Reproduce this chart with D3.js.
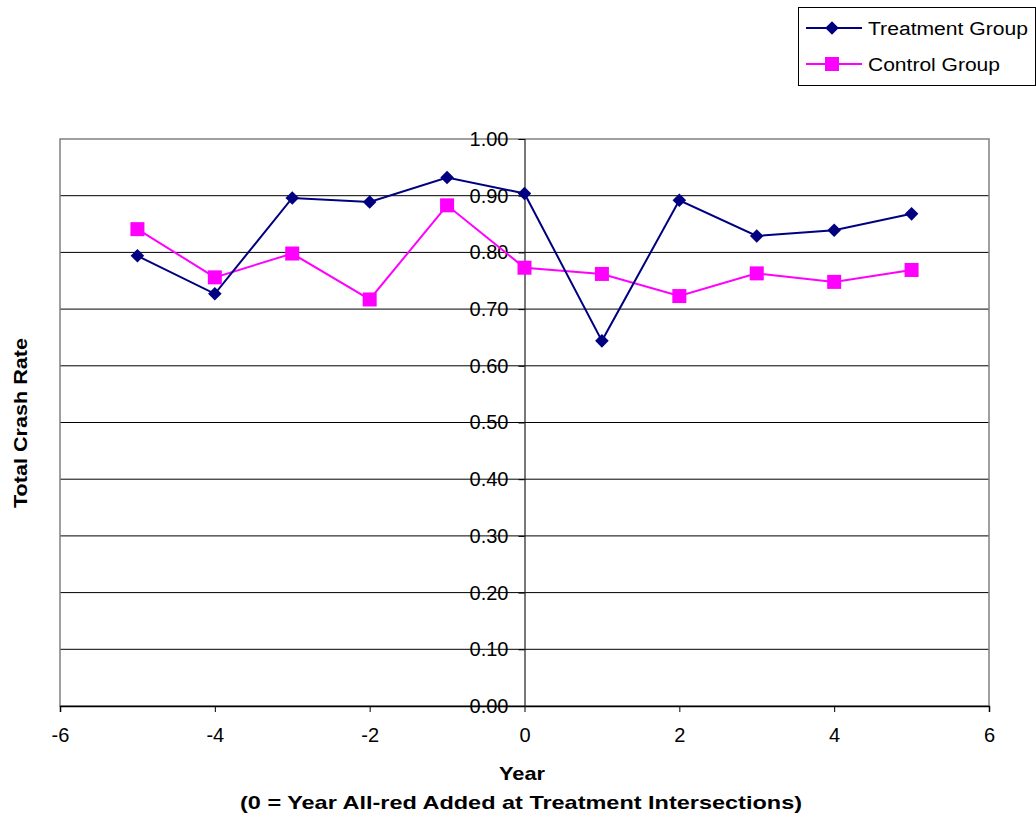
<!DOCTYPE html>
<html><head><meta charset="utf-8">
<script src="https://cdn.jsdelivr.net/npm/d3@7"></script>
<style>body{margin:0;background:#fff;}svg{display:block;font-family:"Liberation Sans",Arial,sans-serif;}</style>
</head><body>
<svg id="c" width="1036" height="821"></svg>
<script>
const years = [-5,-4,-3,-2,-1,0,1,2,3,4,5];
const treatment = [0.794,0.727,0.896,0.889,0.932,0.904,0.644,0.892,0.829,0.839,0.868];
const control = [0.841,0.756,0.798,0.717,0.883,0.773,0.762,0.723,0.763,0.748,0.769];
const xTicks = [-6,-4,-2,0,2,4,6];
const yTicks = [0,0.1,0.2,0.3,0.4,0.5,0.6,0.7,0.8,0.9,1.0];
const seriesNames = ["Treatment Group","Control Group"];

const svg = d3.select("#c");
const L=60, R=989, T=139, B=706;
const x = d3.scaleLinear().domain([-6,6]).range([L,R]);
const y = d3.scaleLinear().domain([0,1]).range([B,T]);

// gridlines
svg.append("g").selectAll("line").data(yTicks.slice(1,-1)).join("line")
  .attr("x1",L).attr("x2",R).attr("y1",d=>y(d)).attr("y2",d=>y(d))
  .attr("stroke","#000").attr("stroke-width",1);
// plot border
svg.append("rect").attr("x",L).attr("y",T).attr("width",R-L).attr("height",B-T)
  .attr("fill","none").attr("stroke","#808080").attr("stroke-width",1.5);

// x axis at y=0
const xAxis = svg.append("g").attr("transform",`translate(0,${y(0)})`)
  .call(d3.axisBottom(x).tickValues(xTicks).tickFormat(d=>String(d)).tickSizeOuter(0).tickSize(6).tickPadding(16));
xAxis.select(".domain").attr("stroke","#000").attr("stroke-width",1.5);
xAxis.selectAll("line").attr("stroke","#000");
xAxis.selectAll("text").attr("font-size",20).attr("fill","#000").attr("font-family","Liberation Sans, Arial");

// y axis at x=0
const yAxis = svg.append("g").attr("transform",`translate(${x(0)},0)`)
  .call(d3.axisLeft(y).tickValues(yTicks).tickFormat(d3.format(".2f")).tickSizeOuter(0).tickSize(6).tickPadding(10));
yAxis.select(".domain").attr("stroke","#202020").attr("stroke-width",1.2);
yAxis.selectAll("line").attr("stroke","#000");
yAxis.selectAll("text").attr("font-size",20).attr("fill","#000").attr("font-family","Liberation Sans, Arial");

// lines
const line = d3.line().x((d,i)=>x(years[i])).y(d=>y(d));
svg.append("path").datum(control).attr("d",line).attr("fill","none").attr("stroke","#FF00FF").attr("stroke-width",2);
svg.append("path").datum(treatment).attr("d",line).attr("fill","none").attr("stroke","#000080").attr("stroke-width",2);

// markers
const diamond = d3.symbol().type(d3.symbolSquare).size(92);
svg.append("g").selectAll("rect").data(control).join("rect")
  .attr("x",(d,i)=>x(years[i])-7).attr("y",d=>y(d)-7).attr("width",14).attr("height",14).attr("fill","#FF00FF");
svg.append("g").selectAll("path").data(treatment).join("path")
  .attr("d",diamond).attr("transform",(d,i)=>`translate(${x(years[i])},${y(d)}) rotate(45)`).attr("fill","#000080");

// axis titles
svg.append("text").attr("x",522).attr("y",780).attr("text-anchor","middle")
  .attr("font-size",19).attr("font-weight","bold").attr("textLength",46).attr("lengthAdjust","spacingAndGlyphs").text("Year");
svg.append("text").attr("x",521).attr("y",809).attr("text-anchor","middle")
  .attr("font-size",19).attr("font-weight","bold").attr("textLength",562).attr("lengthAdjust","spacingAndGlyphs")
  .text("(0 = Year All-red Added at Treatment Intersections)");
svg.append("text").attr("transform","translate(27,423) rotate(-90)").attr("text-anchor","middle")
  .attr("font-size",19).attr("font-weight","bold").attr("textLength",170).attr("lengthAdjust","spacingAndGlyphs").text("Total Crash Rate");

// legend
const lg = svg.append("g");
lg.append("rect").attr("x",798.5).attr("y",7.5).attr("width",237).attr("height",78)
  .attr("fill","#fff").attr("stroke","#000").attr("stroke-width",1);
const lgY = [28,64], lgCol = ["#000080","#FF00FF"], lgW = [160,132];
seriesNames.forEach((n,i)=>{
  lg.append("line").attr("x1",806).attr("x2",862).attr("y1",lgY[i]).attr("y2",lgY[i]).attr("stroke",lgCol[i]).attr("stroke-width",2);
  if(i===0) lg.append("path").attr("d",diamond).attr("transform",`translate(832,${lgY[i]}) rotate(45)`).attr("fill",lgCol[i]);
  else lg.append("rect").attr("x",832-7).attr("y",lgY[i]-7).attr("width",14).attr("height",14).attr("fill",lgCol[i]);
  lg.append("text").attr("x",868).attr("y",lgY[i]+6.5).attr("font-size",18).attr("fill","#000")
    .attr("textLength",lgW[i]).attr("lengthAdjust","spacingAndGlyphs").text(n);
});
</script>
</body></html>
